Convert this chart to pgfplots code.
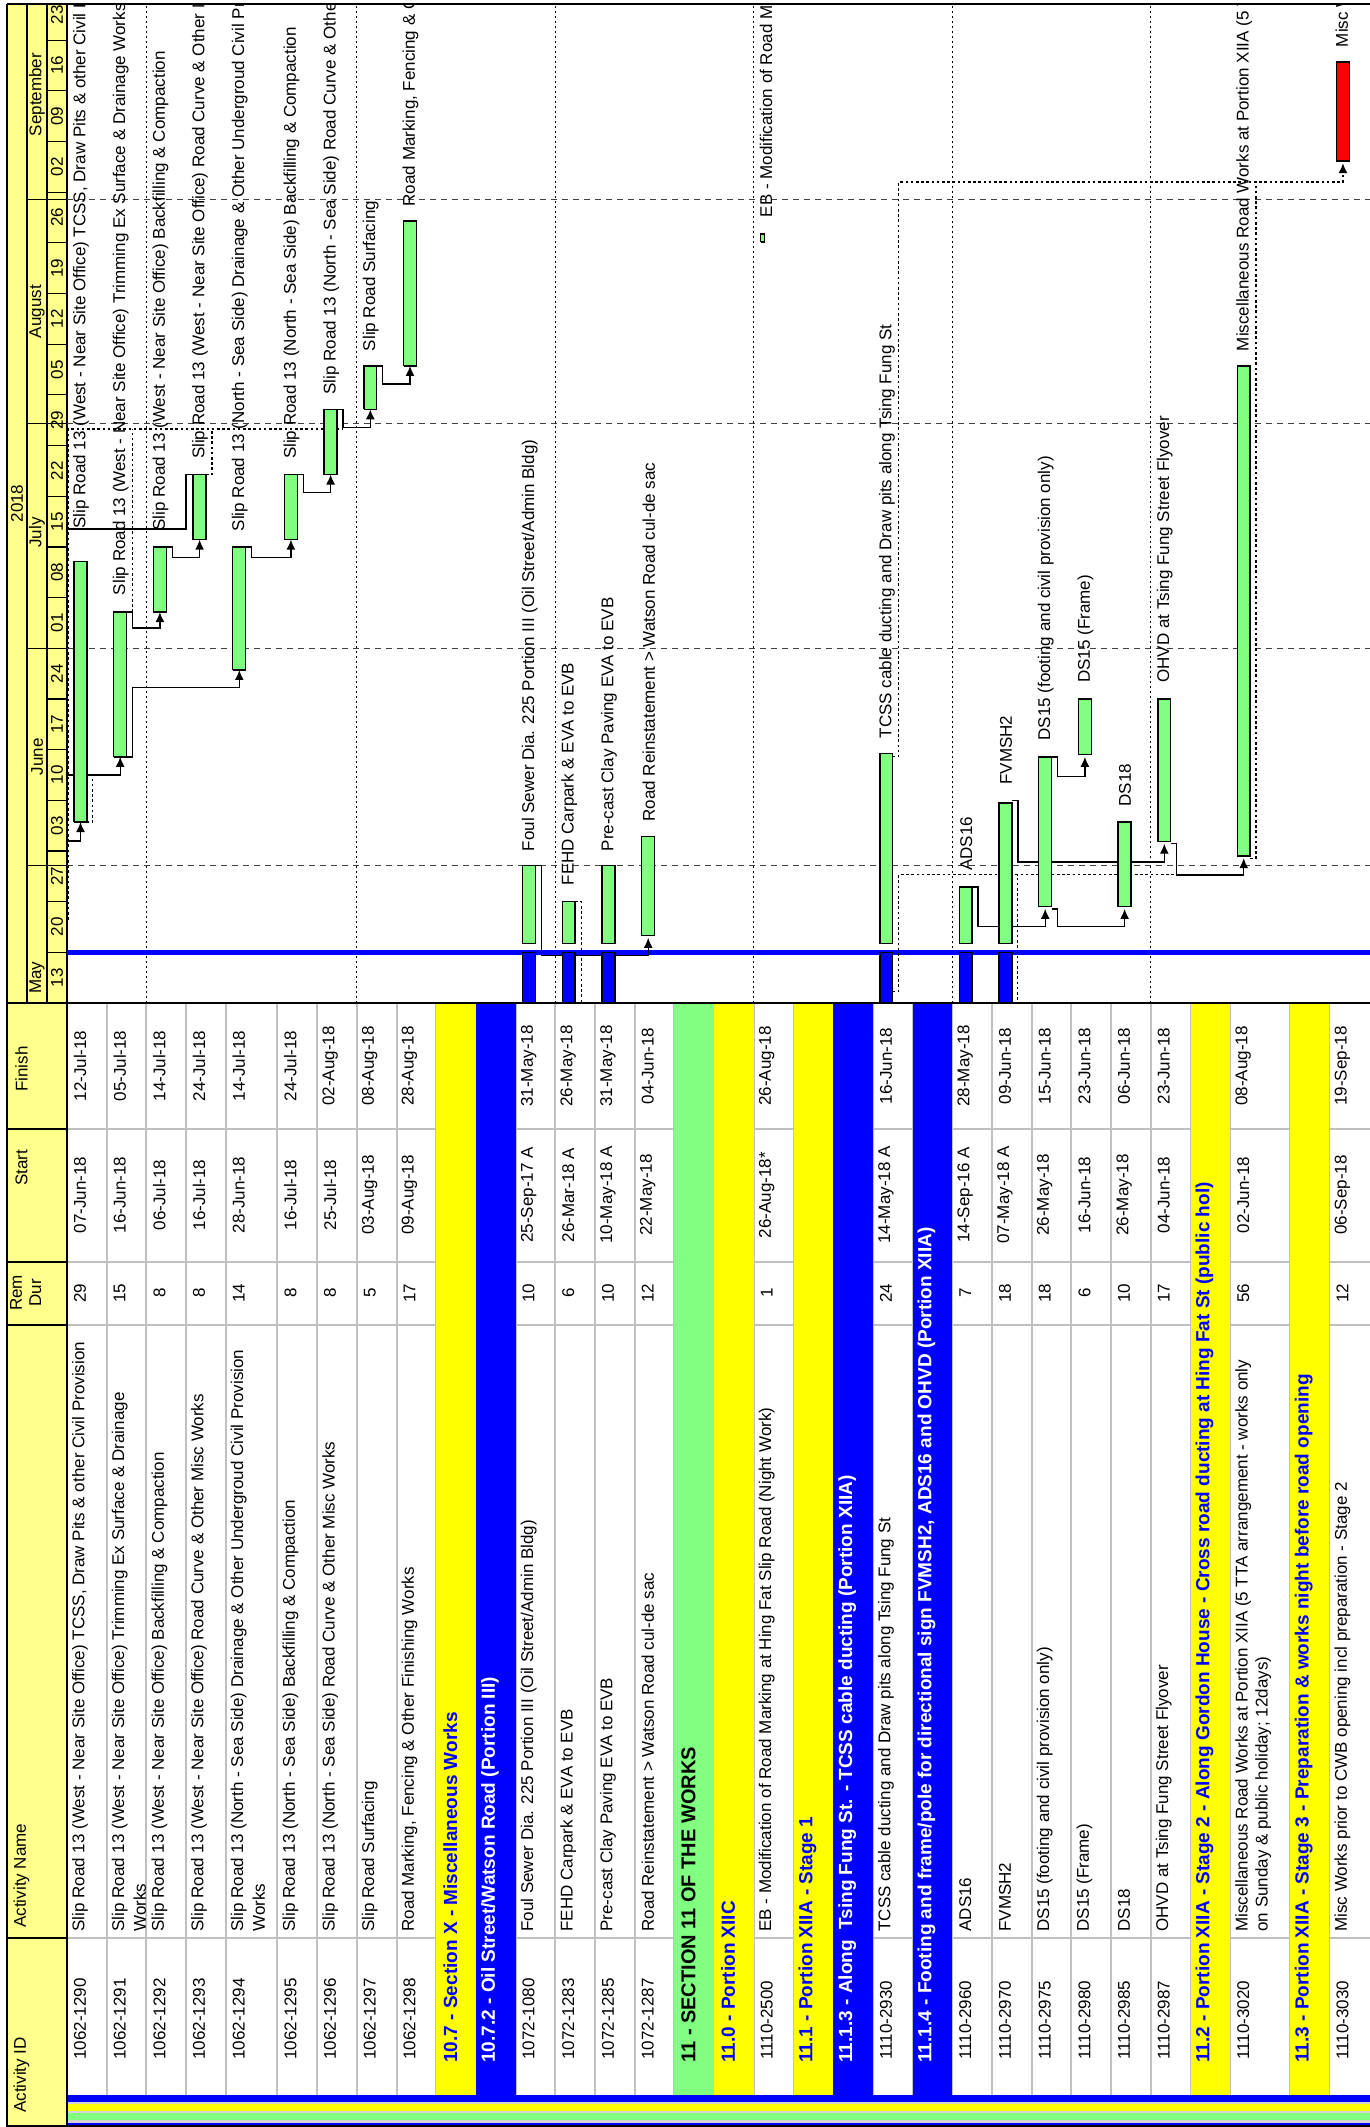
\documentclass[border=0pt]{standalone}
\usepackage{fontspec}
\setmainfont{Liberation Sans}
\usepackage{pgfplots}
\pgfplotsset{compat=1.18}
\usetikzlibrary{arrows.meta}

\definecolor{hdr}{RGB}{255,255,140}
\definecolor{bandY}{RGB}{255,255,0}
\definecolor{bandB}{RGB}{0,0,255}
\definecolor{bandG}{RGB}{128,255,128}
\definecolor{barG}{RGB}{128,255,128}
\definecolor{gridgray}{RGB}{192,192,192}

\tikzset{
  rot/.style={rotate=90, inner sep=0pt},
  rel/.style={black, line width=0.7pt},
  reld/.style={black, line width=0.6pt, dash pattern=on 1.3pt off 1.3pt},
  tip/.style={-{Latex[length=5pt,width=4.5pt]}},
}
\newcommand{\bandfont}{\fontsize{9.5}{11}\selectfont\bfseries}

% gantt: x = row position, y = days after 13-May-18
\newcommand{\gbar}[5]{\addplot[draw=black, line width=0.7pt, fill=#5] coordinates {(#1,#3) (#2,#3) (#2,#4) (#1,#4) (#1,#3)};}
\newcommand{\glabel}[3]{\node[rot, anchor=west] at ([xshift=7pt]axis cs:#1,#2) {#3};}
\newcommand{\wk}[2]{\node[rot] at (axis cs:-0.252,#1) {#2};}

% table: x = row position, y = px from table top
\newcommand{\trow}[6]{%
  \node[rot, anchor=west] at ([xshift=6.5pt]axis cs:#1,1057) {#2};
  \node[rot, anchor=west] at ([xshift=6.5pt]axis cs:#1,929) {#3};
  \node[rot] at ([xshift=6.5pt]axis cs:#1,290) {#4};
  \node[rot] at ([xshift=6.5pt]axis cs:#1,192) {#5};
  \node[rot] at ([xshift=6.5pt]axis cs:#1,63) {#6};}
\newcommand{\tline}[2]{\node[rot, anchor=west] at ([xshift=16.5pt]axis cs:#1,929) {#2};}
\newcommand{\band}[5]{%
  \fill[#3] (axis cs:#1,0) rectangle (axis cs:#2,1092);
  \node[rot, anchor=west, text=#4, font=\bandfont] at ([xshift=7pt]axis cs:#1,1060) {#5};}

\begin{document}
\begin{tikzpicture}[font=\fontsize{8.5}{10}\selectfont]
\path[use as bounding box] (0pt,0pt) rectangle (685pt,1063.5pt);
\clip (0pt,0pt) rectangle (685pt,1063.5pt);
\fill[white] (0pt,0pt) rectangle (685pt,1063.5pt);

%================ GANTT =================
\begin{axis}[at={(0pt,562pt)}, anchor=south west, scale only axis,
  width=685pt, height=499.5pt,
  xmin=-1.6877, xmax=32.821, ymin=0, ymax=138,
  hide axis, clip=false, no markers]
% timescale
\fill[hdr] (axis cs:-1.511,0) rectangle (axis cs:0,138);
\draw[line width=0.6pt] (axis cs:-1.008,0) -- (axis cs:-1.008,138);
\draw[line width=0.6pt] (axis cs:-0.504,0) -- (axis cs:-0.504,138);
\draw[line width=0.8pt] (axis cs:0,0) -- (axis cs:0,138);
\pgfplotsinvokeforeach{19,49,80,111}{\draw[line width=0.6pt] (axis cs:-1.008,#1) -- (axis cs:0,#1);}
\pgfplotsinvokeforeach{7,14,21,28,35,42,49,56,63,70,77,84,91,98,105,112,119,126,133}{\draw[line width=0.6pt] (axis cs:-0.504,#1) -- (axis cs:0,#1);}
\node[rot] at (axis cs:-1.26,69) {2018};
\node[rot] at (axis cs:-0.756,3.5) {May};
\node[rot] at (axis cs:-0.756,34) {June};
\node[rot] at (axis cs:-0.756,65) {July};
\node[rot] at (axis cs:-0.756,95.5) {August};
\node[rot] at (axis cs:-0.756,125.5) {September};
\wk{3.5}{13}\wk{10.5}{20}\wk{17.5}{27}\wk{24.5}{03}\wk{31.5}{10}
\wk{38.5}{17}\wk{45.5}{24}\wk{52.5}{01}\wk{59.5}{08}\wk{66.5}{15}
\wk{73.5}{22}\wk{80.5}{29}\wk{87.5}{05}\wk{94.5}{12}\wk{101.5}{19}
\wk{108.5}{26}\wk{115.5}{02}\wk{122.5}{09}\wk{129.5}{16}\wk{136.5}{23}

% month lines and sight lines
\pgfplotsinvokeforeach{19,49,80,111}{\draw[black!75, line width=0.5pt, dash pattern=on 3pt off 2.5pt] (axis cs:0,#1) -- (axis cs:32.821,#1);}
\pgfplotsinvokeforeach{2,7.3,12.3,17.3,22.3,27.3}{\draw[black, line width=0.5pt, dash pattern=on 1pt off 1.5pt] (axis cs:#1,0) -- (axis cs:#1,138);}
% data date 20-May-18
\draw[bandB, line width=2.2pt] (axis cs:0,7) -- (axis cs:32.821,7);

% relationships
\addplot[rel, tip] coordinates {(0,22.4) (0.34,22.4) (0.34,25)};
\addplot[rel, tip] coordinates {(0,31.5) (1.34,31.5) (1.34,34)};
\addplot[rel, tip] coordinates {(1.5,54) (1.65,54) (1.65,51.8) (2.34,51.8) (2.34,54)};
\addplot[rel, tip] coordinates {(1.5,34) (1.65,34) (1.65,43.6) (4.34,43.6) (4.34,46)};
\addplot[rel, tip] coordinates {(2.5,63) (2.65,63) (2.65,61.5) (3.34,61.5) (3.34,64)};
\addplot[rel, tip] coordinates {(4.5,63) (4.65,63) (4.65,61.5) (5.64,61.5) (5.64,64)};
\addplot[rel] coordinates {(0,65.5) (3.0,65.5) (3.0,73) (3.176,73)};
\addplot[rel, tip] coordinates {(5.8,73) (5.95,73) (5.95,70.5) (6.64,70.5) (6.64,73)};
\addplot[rel, tip] coordinates {(6.8,82) (6.95,82) (6.95,79.5) (7.64,79.5) (7.64,82)};
\addplot[rel, tip] coordinates {(7.8,88) (7.95,88) (7.95,85.5) (8.64,85.5) (8.64,88)};
\addplot[rel, tip] coordinates {(11.8,19) (11.95,19) (11.95,6.6) (14.64,6.6) (14.64,9)};
\addplot[rel, tip] coordinates {(22.8,16) (22.95,16) (22.95,10.6) (24.64,10.6) (24.64,13)};
\addplot[rel, tip] coordinates {(23.8,28) (23.95,28) (23.95,19.5) (27.64,19.5) (27.64,22)};
\addplot[rel, tip] coordinates {(24.8,34) (24.95,34) (24.95,31.3) (25.64,31.3) (25.64,34)};
\addplot[rel, tip] coordinates {(24.8,13) (24.95,13) (24.95,10.6) (26.64,10.6) (26.64,13)};
\addplot[rel, tip] coordinates {(27.8,22) (27.95,22) (27.95,17.7) (29.64,17.7) (29.64,20)};
\addplot[reld] coordinates {(0.5,25) (0.65,25) (0.65,31.5)};
\addplot[reld] coordinates {(1.65,54) (1.65,79.3)};
\addplot[reld] coordinates {(3.5,73) (3.65,73) (3.65,79.3)};
\addplot[reld] coordinates {(0.03,11.5) (0.03,79.3) (6.95,79.3)};
\addplot[reld] coordinates {(12.8,14) (12.95,14) (12.95,-1)};
\addplot[reld, tip] coordinates {(20.8,34) (20.95,34) (20.95,113.4) (32.14,113.4) (32.14,116)};
\addplot[reld] coordinates {(20.8,1.6) (20.95,1.6) (20.95,17.7) (27.95,17.7)};
\addplot[reld] coordinates {(29.8,20) (29.95,20) (29.95,113.4)};
\addplot[reld] coordinates {(23.95,-1) (23.95,17.7)};

% bars: remaining (green), actual (blue), critical (red)
\gbar{0.176}{0.5}{25}{61}{barG}
\gbar{1.176}{1.5}{34}{54}{barG}
\gbar{2.176}{2.5}{54}{63}{barG}
\gbar{3.176}{3.5}{64}{73}{barG}
\gbar{4.176}{4.5}{46}{63}{barG}
\gbar{5.476}{5.8}{64}{73}{barG}
\gbar{6.476}{6.8}{73}{82}{barG}
\gbar{7.476}{7.8}{82}{88}{barG}
\gbar{8.476}{8.8}{88}{108}{barG}
\gbar{11.476}{11.8}{8.2}{19}{barG}
\gbar{11.476}{11.8}{-1}{7}{bandB}
\gbar{12.476}{12.8}{8.2}{14}{barG}
\gbar{12.476}{12.8}{-1}{7}{bandB}
\gbar{13.476}{13.8}{8.2}{19}{barG}
\gbar{13.476}{13.8}{-1}{7}{bandB}
\gbar{14.476}{14.8}{9.3}{23}{barG}
\gbar{17.47}{17.57}{105.1}{106.2}{barG}
\gbar{20.476}{20.8}{8.2}{34.5}{barG}
\gbar{20.476}{20.8}{-1}{7}{bandB}
\gbar{22.476}{22.8}{8.2}{16}{barG}
\gbar{22.476}{22.8}{-1}{7}{bandB}
\gbar{23.476}{23.8}{8.2}{27.6}{barG}
\gbar{23.476}{23.8}{-1}{7}{bandB}
\gbar{24.476}{24.8}{13.3}{34}{barG}
\gbar{25.476}{25.8}{34.3}{42}{barG}
\gbar{26.476}{26.8}{13.3}{25}{barG}
\gbar{27.476}{27.8}{22.3}{42}{barG}
\gbar{29.476}{29.8}{20.3}{88}{barG}
\gbar{31.976}{32.3}{116.3}{130}{red}

% bar labels
\glabel{0}{65.5}{Slip Road 13 (West - Near Site Office) TCSS, Draw Pits \& other Civil Provision}
\glabel{1}{56.3}{Slip Road 13 (West - Near Site Office) Trimming Ex Surface \& Drainage Works}
\glabel{2}{65.2}{Slip Road 13 (West - Near Site Office) Backfilling \& Compaction}
\glabel{3}{75.1}{Slip Road 13 (West - Near Site Office) Road Curve \& Other Misc Works}
\glabel{4}{65.1}{Slip Road 13 (North - Sea Side) Drainage \& Other Undergroud Civil Provision Works}
\glabel{5.3}{75.1}{Slip Road 13 (North - Sea Side) Backfilling \& Compaction}
\glabel{6.3}{84}{Slip Road 13 (North - Sea Side) Road Curve \& Other Misc Works}
\glabel{7.3}{90}{Slip Road Surfacing}
\glabel{8.3}{110}{Road Marking, Fencing \& Other Finishing Works}
\glabel{11.3}{20.9}{Foul Sewer Dia. 225 Portion III (Oil Street/Admin Bldg)}
\glabel{12.3}{16.2}{FEHD Carpark \& EVA to EVB}
\glabel{13.3}{20.9}{Pre-cast Clay Paving EVA to EVB}
\glabel{14.3}{25}{Road Reinstatement > Watson Road cul-de sac}
\glabel{17.3}{108.5}{EB - Modification of Road Marking at Hing Fat Slip Road (Night Work)}
\glabel{20.3}{36.5}{TCSS cable ducting and Draw pits along Tsing Fung St}
\glabel{22.3}{18.2}{ADS16}
\glabel{23.3}{30.1}{FVMSH2}
\glabel{24.3}{36.2}{DS15 (footing and civil provision only)}
\glabel{25.3}{44.2}{DS15 (Frame)}
\glabel{26.3}{27.1}{DS18}
\glabel{27.3}{44.2}{OHVD at Tsing Fung Street Flyover}
\glabel{29.3}{90}{Miscellaneous Road Works at Portion XIIA (5 TTA arrangement - works only on Sunday \& public holiday; 12days)}
\glabel{31.8}{132}{Misc Works prior to CWB opening incl preparation - Stage 2}
\end{axis}

%================ TABLE =================
\begin{axis}[at={(0pt,0pt)}, anchor=south west, scale only axis,
  width=685pt, height=562pt,
  xmin=-1.6877, xmax=32.821, ymin=0, ymax=1124, y dir=reverse,
  hide axis, clip=false, no markers]
\fill[white] (axis cs:0,0) rectangle (axis cs:32.821,1124);
\fill[hdr] (axis cs:-1.511,0) rectangle (axis cs:0,1124);
% outline stripes
\fill[gridgray!70] (axis cs:0,1092) rectangle (axis cs:32.821,1124);
\fill[bandB] (axis cs:0,1092) rectangle (axis cs:32.821,1099);
\fill[bandY] (axis cs:0,1101) rectangle (axis cs:32.821,1108);
\fill[bandG] (axis cs:0,1110) rectangle (axis cs:32.821,1117);
\fill[bandB] (axis cs:0,1119.5) rectangle (axis cs:32.821,1123);
% grid
\pgfplotsinvokeforeach{1,2,3,4,5.3,6.3,7.3,8.3,9.3,11.3,12.3,13.3,14.3,15.3,17.3,18.3,20.3,21.3,22.3,23.3,24.3,25.3,26.3,27.3,28.3,29.3,30.8,31.8}{\draw[gridgray, line width=1pt] (axis cs:#1,0) -- (axis cs:#1,1092);}
\pgfplotsinvokeforeach{126,259,322,935}{\draw[gridgray, line width=1pt] (axis cs:0,#1) -- (axis cs:32.821,#1);}

% WBS bands
\band{9.3}{10.3}{bandY}{bandB}{10.7 - Section X - Miscellaneous Works}
\band{10.3}{11.3}{bandB}{white}{10.7.2 - Oil Street/Watson Road (Portion III)}
\fill[bandG] (axis cs:15.3,0) rectangle (axis cs:16.3,1092);
\node[rot, anchor=west, font=\fontsize{10}{12}\selectfont\bfseries] at ([xshift=7pt]axis cs:15.3,1060) {11 - SECTION 11 OF THE WORKS};
\band{16.3}{17.3}{bandY}{bandB}{11.0 - Portion XIIC}
\band{18.3}{19.3}{bandY}{bandB}{11.1 - Portion XIIA - Stage 1}
\band{19.3}{20.3}{bandB}{white}{11.1.3 - Along\ \ Tsing Fung St. - TCSS cable ducting (Portion XIIA)}
\band{21.3}{22.3}{bandB}{white}{11.1.4 - Footing and frame/pole for directional sign FVMSH2, ADS16 and OHVD (Portion XIIA)}
\band{28.3}{29.3}{bandY}{bandB}{11.2 - Portion XIIA - Stage 2 - Along Gordon House - Cross road ducting at Hing Fat St (public hol)}
\band{30.8}{31.8}{bandY}{bandB}{11.3 - Portion XIIA - Stage 3 - Preparation \& works night before road opening}

% activities
\trow{0}{1062-1290}{Slip Road 13 (West - Near Site Office) TCSS, Draw Pits \& other Civil Provision}{29}{07-Jun-18}{12-Jul-18}
\trow{1}{1062-1291}{Slip Road 13 (West - Near Site Office) Trimming Ex Surface \& Drainage}{15}{16-Jun-18}{05-Jul-18}
\tline{1}{Works}
\trow{2}{1062-1292}{Slip Road 13 (West - Near Site Office) Backfilling \& Compaction}{8}{06-Jul-18}{14-Jul-18}
\trow{3}{1062-1293}{Slip Road 13 (West - Near Site Office) Road Curve \& Other Misc Works}{8}{16-Jul-18}{24-Jul-18}
\trow{4}{1062-1294}{Slip Road 13 (North - Sea Side) Drainage \& Other Undergroud Civil Provision}{14}{28-Jun-18}{14-Jul-18}
\tline{4}{Works}
\trow{5.3}{1062-1295}{Slip Road 13 (North - Sea Side) Backfilling \& Compaction}{8}{16-Jul-18}{24-Jul-18}
\trow{6.3}{1062-1296}{Slip Road 13 (North - Sea Side) Road Curve \& Other Misc Works}{8}{25-Jul-18}{02-Aug-18}
\trow{7.3}{1062-1297}{Slip Road Surfacing}{5}{03-Aug-18}{08-Aug-18}
\trow{8.3}{1062-1298}{Road Marking, Fencing \& Other Finishing Works}{17}{09-Aug-18}{28-Aug-18}
\trow{11.3}{1072-1080}{Foul Sewer Dia. 225 Portion III (Oil Street/Admin Bldg)}{10}{25-Sep-17 A}{31-May-18}
\trow{12.3}{1072-1283}{FEHD Carpark \& EVA to EVB}{6}{26-Mar-18 A}{26-May-18}
\trow{13.3}{1072-1285}{Pre-cast Clay Paving EVA to EVB}{10}{10-May-18 A}{31-May-18}
\trow{14.3}{1072-1287}{Road Reinstatement > Watson Road cul-de sac}{12}{22-May-18}{04-Jun-18}
\trow{17.3}{1110-2500}{EB - Modification of Road Marking at Hing Fat Slip Road (Night Work)}{1}{26-Aug-18*}{26-Aug-18}
\trow{20.3}{1110-2930}{TCSS cable ducting and Draw pits along Tsing Fung St}{24}{14-May-18 A}{16-Jun-18}
\trow{22.3}{1110-2960}{ADS16}{7}{14-Sep-16 A}{28-May-18}
\trow{23.3}{1110-2970}{FVMSH2}{18}{07-May-18 A}{09-Jun-18}
\trow{24.3}{1110-2975}{DS15 (footing and civil provision only)}{18}{26-May-18}{15-Jun-18}
\trow{25.3}{1110-2980}{DS15 (Frame)}{6}{16-Jun-18}{23-Jun-18}
\trow{26.3}{1110-2985}{DS18}{10}{26-May-18}{06-Jun-18}
\trow{27.3}{1110-2987}{OHVD at Tsing Fung Street Flyover}{17}{04-Jun-18}{23-Jun-18}
\trow{29.3}{1110-3020}{Miscellaneous Road Works at Portion XIIA (5 TTA arrangement - works only}{56}{02-Jun-18}{08-Aug-18}
\tline{29.3}{on Sunday \& public holiday; 12days)}
\trow{31.8}{1110-3030}{Misc Works prior to CWB opening incl preparation - Stage 2}{12}{06-Sep-18}{19-Sep-18}

% column headings
\pgfplotsinvokeforeach{126,259,322,935}{\draw[line width=0.6pt] (axis cs:-1.511,#1) -- (axis cs:0,#1);}
\draw[line width=0.8pt] (axis cs:0,0) -- (axis cs:0,1124);
\draw[line width=1pt] (axis cs:-1.511,0) -- (axis cs:32.821,0);
\node[rot] at (axis cs:-1.146,66) {Finish};
\node[rot] at (axis cs:-1.146,165) {Start};
\node[rot] at (axis cs:-1.285,290) {Rem};
\node[rot] at (axis cs:-0.80,290) {Dur};
\node[rot, anchor=west] at (axis cs:-1.146,925) {Activity Name};
\node[rot, anchor=west] at (axis cs:-1.146,1110) {Activity ID};
\end{axis}

% frame
\fill[white] (0pt,1061.5pt) rectangle (685pt,1063.5pt);
\draw[line width=1pt] (3.5pt,1061.5pt) -- (685pt,1061.5pt);
\draw[line width=1pt] (3.5pt,0pt) -- (3.5pt,1061.5pt);
\draw[line width=1pt] (3.5pt,0.5pt) -- (685pt,0.5pt);
\end{tikzpicture}
\end{document}
